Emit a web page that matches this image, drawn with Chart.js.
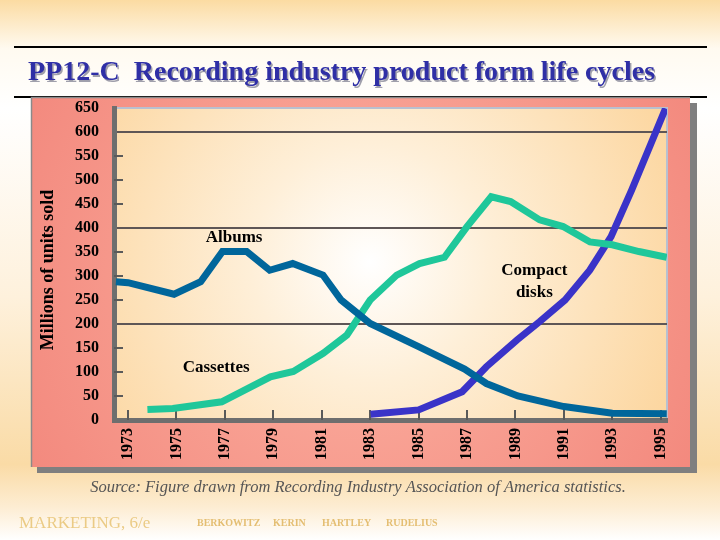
<!DOCTYPE html>
<html><head><meta charset="utf-8">
<script src="https://cdn.jsdelivr.net/npm/chart.js@4/dist/chart.umd.min.js"></script>
<style>html,body{margin:0;padding:0;background:#fff;}canvas{display:block}</style>
</head><body>
<canvas id="c" width="720" height="540"></canvas>
<script>
const chartTitle = "PP12-C  Recording industry product form life cycles";
const yAxisTitle = "Millions of units sold";
const sourceNote = "Source: Figure drawn from Recording Industry Association of America statistics.";
const bookTitle = "MARKETING, 6/e";
const authors = ["BERKOWITZ", "KERIN", "HARTLEY", "RUDELIUS"];

const xTickYears = [1973, 1975, 1977, 1979, 1981, 1983, 1985, 1987, 1989, 1991, 1993, 1995];

const albumYears  = [1972.5, 1973, 1974.9, 1976, 1976.9, 1977.9, 1978.85, 1979.8, 1981.05, 1981.8, 1983, 1985, 1986.9, 1987.8, 1989.1, 1991, 1993, 1995.25];
const albumValues = [288, 286, 262, 288, 351, 351, 312, 326, 302, 250, 201, 153, 106, 76, 50, 28, 14, 13];

const cassetteYears  = [1973.8, 1974.85, 1976.87, 1978.88, 1979.83, 1981.06, 1982.04, 1983, 1984.1, 1985.04, 1986.07, 1987, 1988, 1988.8, 1990, 1990.97, 1992.08, 1993, 1994.1, 1995.25];
const cassetteValues = [22, 24, 38, 90, 101, 139, 177, 250, 302, 326, 339, 403, 465, 455, 417, 403, 371, 365, 351, 339];

const cdYears  = [1983.02, 1985, 1986.8, 1987.8, 1989.07, 1990, 1991.05, 1992.07, 1992.95, 1993.8, 1994.6, 1995.2];
const cdValues = [12, 21, 59, 111, 167, 205, 250, 312, 382, 479, 576, 649];

const labelTexts  = ["Albums", "Cassettes", "Compact", "disks"];
const labelYears  = [1977.38, 1976.64, 1989.78, 1989.78];
const labelValues = [379, 110, 312, 266];

const SERIF = "'Liberation Serif', 'Times New Roman', serif";

function pts(xs, ys) { return xs.map((x, i) => ({ x: x, y: ys[i] })); }

const decor = {
  id: 'decor',
  beforeDraw(chart) {
    const ctx = chart.ctx, a = chart.chartArea;
    ctx.save();
    const g = ctx.createLinearGradient(0, 0, 0, 540);
    g.addColorStop(0, '#FBDBA2');
    g.addColorStop(0.09, '#FFFAF0');
    g.addColorStop(0.2, '#FFFFFF');
    g.addColorStop(0.55, '#FEF1DC');
    g.addColorStop(0.86, '#FADBA6');
    g.addColorStop(0.94, '#FDEDD3');
    g.addColorStop(1, '#FFFFFF');
    ctx.fillStyle = g;
    ctx.fillRect(0, 0, 720, 540);
    ctx.fillStyle = '#000';
    ctx.fillRect(14, 46, 693, 2);
    ctx.fillRect(14, 96, 693, 2);
    ctx.font = 'bold 28px ' + SERIF;
    ctx.textBaseline = 'alphabetic';
    ctx.textAlign = 'left';
    ctx.fillStyle = 'rgba(120,120,140,0.7)';
    ctx.fillText(chartTitle, 29.5, 81.5);
    ctx.fillStyle = '#2F2FA6';
    ctx.fillText(chartTitle, 28, 80);
    ctx.fillStyle = '#7F7F7F';
    ctx.fillRect(37, 103, 660, 370);
    const pg = ctx.createRadialGradient(360, 280, 40, 360, 280, 420);
    pg.addColorStop(0, '#FBAE9F');
    pg.addColorStop(1, '#F2857A');
    ctx.fillStyle = pg;
    ctx.fillRect(31, 97, 659, 370);
    ctx.strokeStyle = '#8A8A8A';
    ctx.lineWidth = 1.5;
    ctx.beginPath();
    ctx.moveTo(31.5, 467); ctx.lineTo(31.5, 97.5); ctx.lineTo(690, 97.5);
    ctx.stroke();
    const rg = ctx.createRadialGradient(370, 262, 0, 370, 262, 340);
    rg.addColorStop(0, '#FFFFFF');
    rg.addColorStop(0.35, '#FEEFD8');
    rg.addColorStop(1, '#FCD59D');
    ctx.fillStyle = rg;
    ctx.fillRect(a.left, a.top, a.right - a.left, a.bottom - a.top);
    ctx.strokeStyle = '#B8C0D0';
    ctx.lineWidth = 2;
    ctx.beginPath();
    ctx.moveTo(a.left, a.top); ctx.lineTo(a.right, a.top); ctx.lineTo(a.right, a.bottom);
    ctx.stroke();
    ctx.restore();
  },
  beforeDatasetsDraw(chart) {
    const ctx = chart.ctx, a = chart.chartArea;
    const xs = chart.scales.x, ys = chart.scales.y;
    ctx.save();
    ctx.strokeStyle = '#5A5A5A';
    ctx.lineWidth = 2;
    ctx.beginPath();
    ys.ticks.forEach(t => {
      if (t.value === 0 || t.value === 650 || t.value % 200 === 0) return;
      const y = Math.round(ys.getPixelForValue(t.value));
      ctx.moveTo(a.left, y); ctx.lineTo(a.left + 9, y);
    });
    xs.ticks.forEach(t => {
      const x = Math.round(xs.getPixelForValue(t.value));
      ctx.moveTo(x, a.bottom); ctx.lineTo(x, a.bottom - 10);
    });
    ctx.stroke();
    ctx.restore();
  },
  afterDraw(chart) {
    const ctx = chart.ctx;
    const xs = chart.scales.x, ys = chart.scales.y;
    ctx.save();
    ctx.save();
    ctx.translate(48, 270);
    ctx.rotate(-Math.PI / 2);
    ctx.font = 'bold 18px ' + SERIF;
    ctx.fillStyle = '#000';
    ctx.textAlign = 'center';
    ctx.textBaseline = 'middle';
    ctx.fillText(yAxisTitle, 0, 0);
    ctx.restore();
    ctx.font = 'bold 17px ' + SERIF;
    ctx.fillStyle = '#000';
    ctx.textAlign = 'center';
    ctx.textBaseline = 'middle';
    labelTexts.forEach((t, i) => {
      ctx.fillText(t, xs.getPixelForValue(labelYears[i]), ys.getPixelForValue(labelValues[i]));
    });
    ctx.font = 'italic 16.5px ' + SERIF;
    ctx.fillStyle = '#555555';
    ctx.fillText(sourceNote, 358, 488);
    ctx.textAlign = 'left';
    ctx.font = '17px ' + SERIF;
    ctx.fillStyle = '#EBCB85';
    ctx.fillText(bookTitle, 19, 524);
    ctx.font = 'bold 10px ' + SERIF;
    ctx.fillStyle = '#E4BE72';
    const ax = [197, 273, 322, 386];
    authors.forEach((w, i) => ctx.fillText(w, ax[i], 523));
    ctx.restore();
  }
};

new Chart(document.getElementById('c'), {
  type: 'line',
  data: {
    datasets: [
      { label: 'Albums', data: pts(albumYears, albumValues), borderColor: '#00669B', borderWidth: 7 },
      { label: 'Cassettes', data: pts(cassetteYears, cassetteValues), borderColor: '#1FC79A', borderWidth: 7 },
      { label: 'Compact disks', data: pts(cdYears, cdValues), borderColor: '#3A33C8', borderWidth: 7 }
    ]
  },
  options: {
    responsive: false,
    animation: false,
    devicePixelRatio: 1,
    layout: { padding: { left: 31, right: 53, top: 108, bottom: 0 } },
    elements: {
      point: { radius: 0 },
      line: { tension: 0, fill: false, borderJoinStyle: 'miter', borderCapStyle: 'butt' }
    },
    plugins: { legend: { display: false }, title: { display: false }, tooltip: { enabled: false } },
    scales: {
      x: {
        type: 'linear',
        min: 1972.42,
        max: 1995.26,
        afterBuildTicks: s => { s.ticks = xTickYears.map(v => ({ value: v })); },
        afterFit: s => { s.height = 120; },
        grid: { display: false, drawTicks: false },
        border: { display: true, color: '#6E6E6E', width: 5 },
        ticks: {
          autoSkip: false, minRotation: 90, maxRotation: 90, padding: 8,
          color: '#000', font: { family: SERIF, size: 16, weight: 'bold' },
          callback: v => String(v)
        }
      },
      y: {
        min: 0,
        max: 650,
        afterFit: s => { s.width = 83; },
        grid: {
          drawTicks: false,
          lineWidth: 2,
          color: c => (c.tick && c.tick.value > 0 && c.tick.value < 650 && c.tick.value % 200 === 0) ? '#5E5656' : 'rgba(0,0,0,0)'
        },
        border: { display: true, color: '#6E6E6E', width: 5 },
        ticks: {
          stepSize: 50, padding: 15,
          color: '#000', font: { family: SERIF, size: 16, weight: 'bold' }
        }
      }
    }
  },
  plugins: [decor]
});
</script>
</body></html>
